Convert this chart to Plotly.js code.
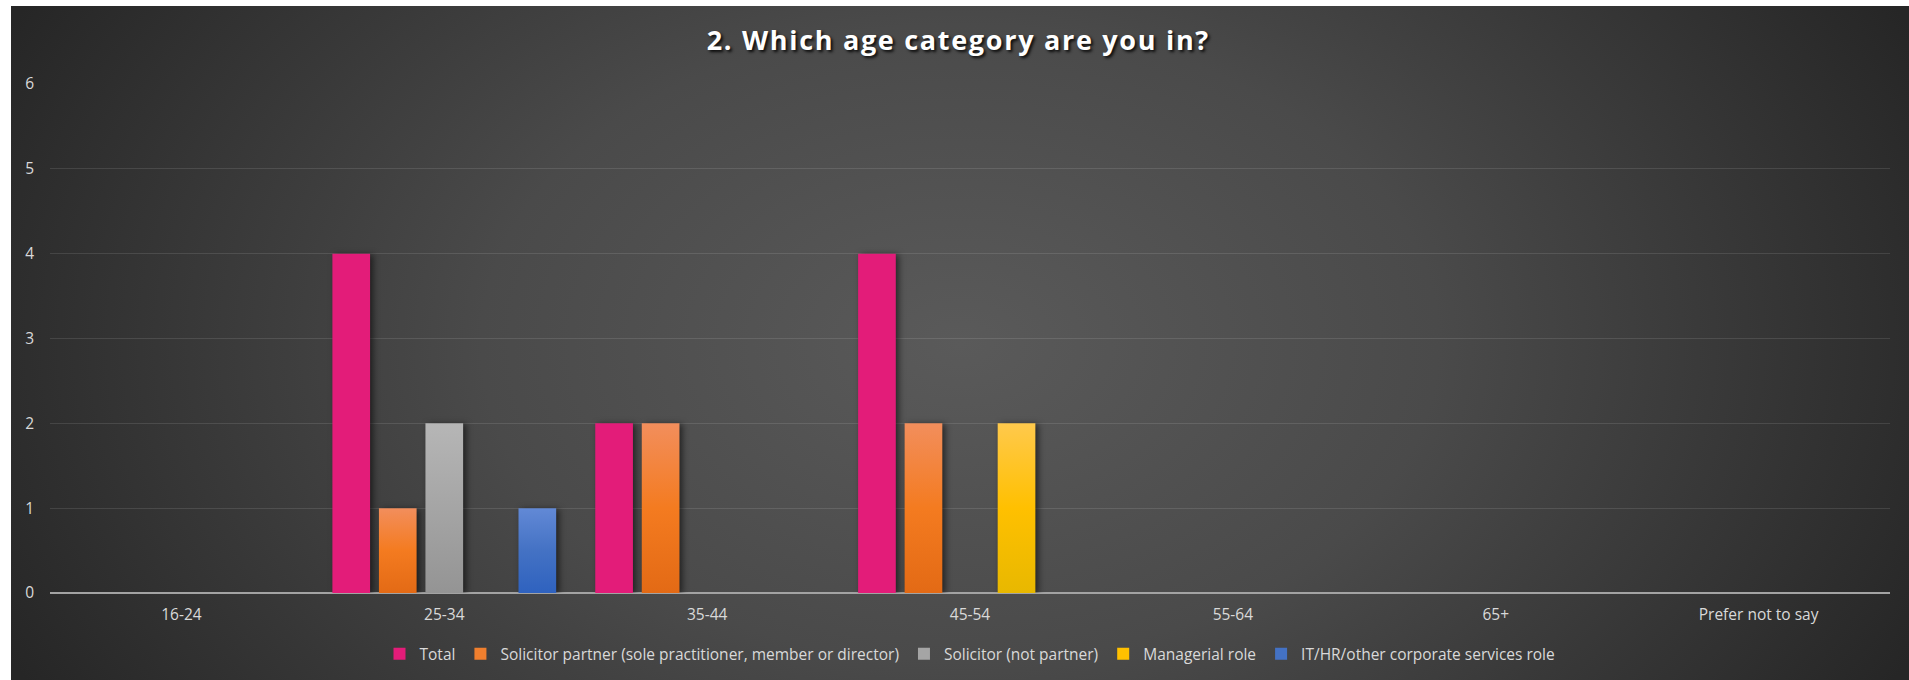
<!DOCTYPE html>
<html>
<head>
<meta charset="utf-8">
<script src="https://cdn.plot.ly/plotly-3.0.1.min.js"></script>
<style>
  html, body { margin: 0; padding: 0; background: #ffffff; width: 1909px; height: 680px; overflow: hidden; }
  #frame {
    position: absolute; left: 11px; top: 6px; width: 1898px; height: 674px;
    background: radial-gradient(ellipse 56% 105% at 50% 50%, #5a5a5a 0%, #4a4a4a 45%, #262626 100%);
  }
  #chart { position: absolute; left: 0; top: 0; width: 1909px; height: 680px; }
  .gtitle { letter-spacing: 1.7px; }
  .barlayer .trace .point path { filter: drop-shadow(3px 1px 3px rgba(0,0,0,0.55)); }
  .barlayer .trace:nth-child(2) .point path { fill: url(#gOrange) !important; }
  .barlayer .trace:nth-child(3) .point path { fill: url(#gGray) !important; }
  .barlayer .trace:nth-child(4) .point path { fill: url(#gYellow) !important; }
  .barlayer .trace:nth-child(5) .point path { fill: url(#gBlue) !important; }
</style>
</head>
<body>
<svg width="0" height="0" style="position:absolute">
  <defs>
    <linearGradient id="gOrange" x1="0" y1="0" x2="0" y2="1">
      <stop offset="0" stop-color="#f28e5c"/><stop offset="0.5" stop-color="#f47b20"/><stop offset="1" stop-color="#e36a15"/>
    </linearGradient>
    <linearGradient id="gGray" x1="0" y1="0" x2="0" y2="1">
      <stop offset="0" stop-color="#b6b6b6"/><stop offset="0.5" stop-color="#a5a5a5"/><stop offset="1" stop-color="#949494"/>
    </linearGradient>
    <linearGradient id="gYellow" x1="0" y1="0" x2="0" y2="1">
      <stop offset="0" stop-color="#ffc94c"/><stop offset="0.5" stop-color="#ffc000"/><stop offset="1" stop-color="#e8b800"/>
    </linearGradient>
    <linearGradient id="gBlue" x1="0" y1="0" x2="0" y2="1">
      <stop offset="0" stop-color="#6289d6"/><stop offset="0.5" stop-color="#4472c4"/><stop offset="1" stop-color="#2f62bf"/>
    </linearGradient>
  </defs>
</svg>
<div id="frame"></div>
<div id="chart"></div>
<script>
const categories = ['16-24', '25-34', '35-44', '45-54', '55-64', '65+', 'Prefer not to say'];
const seriesNames = [
  'Total',
  'Solicitor partner (sole practitioner, member or director)',
  'Solicitor (not partner)',
  'Managerial role',
  'IT/HR/other corporate services role'
];
const totalValues      = [0, 4, 2, 4, 0, 0, 0];
const partnerValues    = [0, 1, 2, 2, 0, 0, 0];
const solicitorValues  = [0, 2, 0, 0, 0, 0, 0];
const managerialValues = [0, 0, 0, 2, 0, 0, 0];
const itHrValues       = [0, 1, 0, 0, 0, 0, 0];
const yTicks = [0, 1, 2, 3, 4, 5, 6];

const seriesValues = [totalValues, partnerValues, solicitorValues, managerialValues, itHrValues];
const colors = ['#e31c79', '#f07f2e', '#a5a5a5', '#ffc000', '#4472c4'];

const traces = seriesNames.map((name, i) => ({
  type: 'bar',
  name: name,
  x: categories,
  y: seriesValues[i],
  marker: { color: colors[i], line: { width: 0 } },
  hoverinfo: 'x+y+name'
}));

const tickFont = { family: 'Open Sans, Noto Sans, sans-serif', size: 15.5, color: '#d9d9d9' };

const layout = {
  width: 1909,
  height: 680,
  paper_bgcolor: 'rgba(0,0,0,0)',
  plot_bgcolor: 'rgba(0,0,0,0)',
  margin: { l: 50, r: 19, t: 84, b: 87, autoexpand: false },
  title: {
    text: '2. Which age category are you in?',
    x: 0.502,
    xanchor: 'center',
    y: 0.941,
    yanchor: 'middle',
    font: { family: 'Open Sans, Noto Sans, sans-serif', size: 27, color: '#ffffff', weight: 700, shadow: '2px 2px 3px rgba(0,0,0,0.85)' }
  },
  barmode: 'group',
  bargap: 0.115,
  bargroupgap: 0.19,
  xaxis: {
    type: 'category',
    categoryorder: 'array',
    categoryarray: categories,
    range: [-0.5, 6.5],
    showgrid: false,
    zeroline: false,
    showline: false,
    ticks: '',
    tickfont: tickFont,
    ticklabelstandoff: 10,
    automargin: false,
    fixedrange: true
  },
  yaxis: {
    range: [0, 6],
    tickvals: yTicks,
    ticktext: yTicks.map(String),
    showgrid: true,
    gridcolor: 'rgba(255,255,255,0.11)',
    gridwidth: 1,
    zeroline: true,
    zerolinecolor: '#a3a3a3',
    zerolinewidth: 2,
    showline: false,
    ticks: '',
    tickfont: tickFont,
    ticklabelstandoff: 15,
    automargin: false,
    fixedrange: true
  },
  showlegend: true,
  legend: {
    orientation: 'h',
    x: 0.5,
    xanchor: 'center',
    y: -0.12,
    yanchor: 'middle',
    font: tickFont,
    bgcolor: 'rgba(0,0,0,0)',
    itemclick: false,
    itemdoubleclick: false,
    tracegroupgap: 0
  }
};

Plotly.newPlot('chart', traces, layout, { displayModeBar: false, staticPlot: true });
</script>
</body>
</html>
